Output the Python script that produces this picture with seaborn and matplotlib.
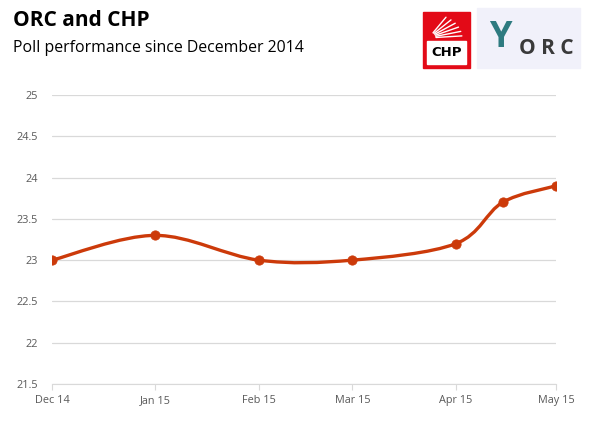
import numpy as np
import pandas as pd
import seaborn as sns
import matplotlib.pyplot as plt
import matplotlib.dates as mdates
from matplotlib.path import Path
from matplotlib.patches import PathPatch, Rectangle

# poll values
dates = ["2014-12-01", "2015-01-01", "2015-02-01", "2015-03-01",
         "2015-04-01", "2015-04-15", "2015-05-01"]
values = [23.0, 23.3, 23.0, 23.0, 23.2, 23.7, 23.9]
tick_dates = ["2014-12-01", "2015-01-01", "2015-02-01", "2015-03-01",
              "2015-04-01", "2015-05-01"]

LINE = "#CC3A0A"

df = pd.DataFrame({"date": pd.to_datetime(dates), "value": values})

sns.set_style("white")
plt.rcParams["font.family"] = ["Open Sans", "DejaVu Sans"]

fig = plt.figure(figsize=(6, 4.25), dpi=100)
ax = fig.add_axes([52 / 600, 1 - 384 / 425, 504 / 600, 289 / 425])

# smoothed line (Excel-style Bezier through the points)
xs = mdates.date2num(df["date"])
ys = df["value"].to_numpy()
pts = np.column_stack([xs, ys])
n = len(pts)
verts = [pts[0]]
codes = [Path.MOVETO]
for i in range(n - 1):
    p0 = pts[max(i - 1, 0)]
    p1 = pts[i]
    p2 = pts[i + 1]
    p3 = pts[min(i + 2, n - 1)]
    c1 = p1 + (p2 - p0) / 6
    c2 = p2 - (p3 - p1) / 6
    verts += [c1, c2, p2]
    codes += [Path.CURVE4] * 3
ax.add_patch(PathPatch(Path(verts, codes), facecolor="none", edgecolor=LINE,
                       lw=2.4, transform=ax.transData, zorder=3,
                       capstyle="round"))

sns.scatterplot(data=df, x="date", y="value", ax=ax, color=LINE, s=45,
                edgecolor=LINE, zorder=4, legend=False)

ax.set_ylim(21.5, 25)
ax.set_yticks(np.arange(21.5, 25.01, 0.5))
ax.set_yticklabels([f"{v:g}" for v in np.arange(21.5, 25.01, 0.5)])
ticks = pd.to_datetime(tick_dates)
ax.set_xlim(ticks[0], ticks[-1])
ax.set_xticks(ticks)
ax.set_xticklabels([t.strftime("%b %y") for t in ticks])
ax.grid(axis="y", color="#D9D9D9", lw=0.9)
ax.set_axisbelow(True)
for s in ["left", "right", "top"]:
    ax.spines[s].set_visible(False)
ax.spines["bottom"].set_color("#D9D9D9")
ax.tick_params(axis="x", colors="#595959", labelsize=7.8, length=4,
               color="#D9D9D9", bottom=True, pad=4)
ax.tick_params(axis="y", colors="#595959", labelsize=7.8, length=0, pad=10)
ax.set_xlabel("")
ax.set_ylabel("")

fig.text(13 / 600, 1 - 20 / 425, "ORC and CHP", fontsize=15, fontweight="bold",
         va="center", ha="left", color="black")
fig.text(13 / 600, 1 - 48 / 425, "Poll performance since December 2014",
         fontsize=11.4, va="center", ha="left", color="black")

# logos (rough drawings)
def fx(px):
    return px / 600

def fy(py):
    return 1 - py / 425

fig.patches.append(Rectangle((fx(423), fy(68)), fx(47), 56 / 425,
                             transform=fig.transFigure, color="#E30A17"))
fig.patches.append(Rectangle((fx(427), fy(64)), fx(39), 23 / 425,
                             transform=fig.transFigure, color="white"))
for a in np.linspace(5, 60, 6):
    r = np.deg2rad(a)
    x0, y0 = 430, 38
    fig.lines.append(plt.Line2D([fx(x0 + 6 * np.cos(r)), fx(x0 + 32 * np.cos(r))],
                                [fy(y0 - 6 * np.sin(r)), fy(y0 - 24 * np.sin(r))],
                                transform=fig.transFigure, color="white", lw=1))
fig.text(fx(446.5), fy(53), "CHP", fontsize=9.5, fontweight="bold",
         ha="center", va="center", color="black",
         family=["DejaVu Sans"])
fig.patches.append(Rectangle((fx(477), fy(68)), fx(103), 60 / 425,
                             transform=fig.transFigure, color="#F1F1FA"))
fig.text(fx(500), fy(38), "Y", fontsize=26, ha="center", va="center",
         color="#2E7B80", fontweight="bold")
fig.text(fx(546), fy(49), "O R C", fontsize=15, ha="center", va="center",
         color="#3A3A3A", fontweight="bold")

fig.savefig("out.png", dpi=100)
